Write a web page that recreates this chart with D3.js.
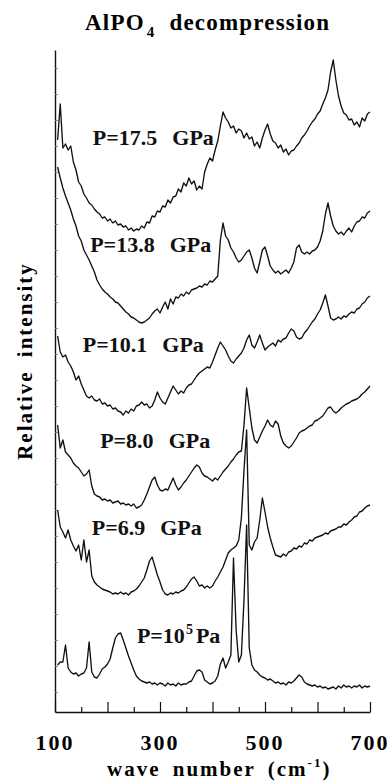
<!DOCTYPE html>
<html>
<head>
<meta charset="utf-8">
<script src="https://cdnjs.cloudflare.com/ajax/libs/d3/7.8.5/d3.min.js"></script>
<style>
  body { margin: 0; background: #fff; }
  svg { display: block; font-family: "Liberation Serif", "Times New Roman", serif; font-weight: bold; }
</style>
</head>
<body>
<svg id="chart"></svg>
<script>
// sampled wave numbers (cm-1), shared by every spectrum
const waveNumbers = [
  105, 110, 115, 120, 125, 130, 135, 140, 145, 150,
  155, 160, 165, 170, 175, 180, 185, 190, 195, 200,
  205, 210, 215, 220, 225, 230, 235, 240, 245, 250,
  255, 260, 265, 270, 275, 280, 285, 290, 295, 300,
  305, 310, 315, 320, 325, 330, 335, 340, 345, 350,
  355, 360, 365, 370, 375, 380, 385, 390, 395, 400,
  405, 410, 415, 420, 425, 430, 435, 440, 445, 450,
  455, 460, 465, 470, 475, 480, 485, 490, 495, 500,
  505, 510, 515, 520, 525, 530, 535, 540, 545, 550,
  555, 560, 565, 570, 575, 580, 585, 590, 595, 600,
  605, 610, 615, 620, 625, 630, 635, 640, 645, 650,
  655, 660, 665, 670, 675, 680, 685, 690, 695, 700
];

// relative intensity (stacked, arbitrary units)
const p175 = [
  572, 608, 564, 568, 562, 566, 550, 542, 530, 526,
  518, 514, 509, 507, 503, 500, 498, 494, 495, 491,
  493, 489, 491, 487, 488, 485, 486, 482, 484, 481,
  483, 482, 486, 484, 490, 489, 496, 495, 501, 500,
  506, 505, 512, 509, 515, 516, 523, 520, 529, 526,
  534, 528, 531, 522, 526, 523, 540, 548, 554, 551,
  562, 571, 586, 600, 594, 590, 584, 586, 579, 583,
  581, 574, 579, 573, 575, 566, 570, 564, 574, 582,
  588, 578, 571, 569, 564, 567, 560, 563, 557, 561,
  562, 566, 569, 574, 577, 581, 586, 590, 593, 598,
  601, 608, 614, 622, 640, 652, 632, 616, 606, 599,
  597, 592, 593, 587, 590, 585, 594, 591, 598, 600
];
const p138 = [
  545, 534, 524, 516, 509, 502, 493, 486, 476, 471,
  462, 457, 452, 446, 440, 432, 427, 423, 420, 418,
  415, 413, 410, 409, 406, 403, 400, 398, 395, 394,
  392, 390, 389, 390, 392, 394, 398, 401, 403, 399,
  405, 410, 403, 413, 408, 415, 414, 418, 416, 420,
  418, 422, 423, 424, 426, 425, 428, 427, 431, 430,
  433, 436, 472, 489, 476, 472, 464, 460, 454, 450,
  452, 456, 460, 462, 454, 444, 439, 450, 462, 465,
  456, 446, 442, 439, 441, 438, 440, 442, 439, 444,
  450, 464, 467, 460, 458, 460, 458, 461, 462, 465,
  471, 481, 498, 509, 496, 486, 481, 478, 480, 477,
  481, 484, 480, 486, 490, 491, 495, 494, 499, 501
];
const p101 = [
  376, 360, 355, 357, 350, 346, 340, 332, 336, 328,
  322, 316, 314, 316, 312, 311, 313, 308, 309, 306,
  307, 303, 304, 301, 300, 297, 301, 299, 303, 301,
  306, 307, 310, 307, 308, 304, 306, 312, 320, 314,
  310, 308, 314, 320, 326, 322, 318, 321, 319, 324,
  327, 328, 332, 336, 339, 341, 343, 345, 344, 350,
  357, 364, 370, 366, 362, 356, 351, 349, 353, 356,
  359, 364, 372, 377, 367, 364, 370, 377, 369, 362,
  365, 367, 369, 366, 372, 370, 373, 374, 379, 383,
  381, 375, 373, 374, 379, 382, 386, 390, 393, 398,
  402, 409, 417, 406, 394, 392, 393, 395, 393, 396,
  395, 398, 400, 399, 403, 404, 408, 410, 414, 416
];
const p80 = [
  287, 264, 272, 260, 257, 254, 249, 246, 244, 240,
  236, 238, 242, 226, 218, 216, 215, 212, 213, 211,
  212, 209, 210, 211, 208, 209, 207, 208, 206, 208,
  204, 205, 207, 212, 218, 225, 232, 235, 227, 222,
  221, 223, 222, 228, 234, 227, 222, 225, 229, 232,
  236, 240, 244, 247, 245, 239, 236, 235, 233, 231,
  234, 232, 236, 240, 243, 246, 250, 253, 257, 260,
  261, 287, 324, 304, 284, 272, 269, 275, 281, 286,
  292, 287, 285, 291, 288, 276, 269, 266, 264, 266,
  270, 274, 279, 281, 282, 284, 286, 287, 291, 292,
  294, 296, 300, 304, 305, 301, 299, 301, 304, 306,
  308, 309, 311, 312, 313, 315, 318, 320, 323, 326
];
const p69 = [
  202, 185, 180, 174, 182, 172, 166, 161, 167, 152,
  172, 150, 162, 136, 130, 127, 125, 123, 122, 121,
  120, 118, 119, 118, 120, 118, 119, 117, 120, 121,
  123, 126, 130, 134, 142, 151, 155, 146, 137, 130,
  122, 118, 117, 119, 118, 120, 119, 121, 122, 125,
  129, 133, 135, 131, 126, 127, 124, 126, 124, 126,
  131, 135, 140, 145, 152, 159, 162, 164, 166, 172,
  194, 242, 282, 167, 162, 170, 174, 192, 214, 200,
  185, 174, 165, 157, 156, 155, 158, 156, 160, 161,
  164, 163, 166, 165, 169, 168, 172, 171, 174, 175,
  176, 177, 179, 178, 181, 182, 183, 185, 185, 188,
  187, 190, 192, 195, 196, 200, 201, 204, 206, 207
];
const p0 = [
  47, 50, 50, 67, 44, 40, 38, 39, 36, 38,
  39, 44, 70, 40, 35, 34, 38, 43, 45, 48,
  53, 64, 74, 78, 79, 72, 64, 56, 49, 42,
  36, 33, 31, 30, 29, 30, 28, 29, 27, 29,
  28, 26, 29, 27, 28, 26, 29, 27, 28, 28,
  30, 31, 36, 41, 42, 40, 32, 30, 28, 29,
  31, 36, 48, 54, 44, 50, 57, 154, 82, 50,
  57, 112, 187, 64, 47, 42, 40, 37, 35, 34,
  32, 33, 31, 29, 30, 28, 29, 27, 30, 29,
  31, 34, 37, 35, 30, 28, 27, 26, 27, 25,
  26, 24, 25, 23, 24, 25, 23, 26, 24, 27,
  25, 26, 24, 26, 25, 27, 24, 26, 25, 26
];

const pressures = ['17.5', '13.8', '10.1', '8.0', '6.9', 'ambient'];
const xTicks = [100, 150, 200, 250, 300, 350, 400, 450, 500, 550, 600, 650, 700];
const xTickLabels = [100, 300, 500, 700];

const spectra = [p175, p138, p101, p80, p69, p0];
// where each pressure label sits, in (wave number, intensity)
const labelAt = [[172, 567], [167, 460], [153, 360], [186, 264], [170, 177], [256, 69]];

const width = 391, height = 783;
const svg = d3.select('#chart').attr('width', width).attr('height', height);

const x = d3.scaleLinear().domain([100, 700]).range([55, 370]);
const y = d3.scaleLinear().domain([0, 662]).range([712, 50]);

// left axis with the faint inner ticks
svg.append('g')
  .attr('transform', `translate(${x(100)},0)`)
  .call(d3.axisLeft(y).tickValues(d3.range(20, 662, 26)).tickSizeInner(-3).tickSizeOuter(0).tickFormat(''))
  .call(g => g.select('.domain').attr('stroke', '#111').attr('stroke-width', 1.4))
  .call(g => g.selectAll('.tick line').attr('stroke', '#777').attr('stroke-width', 0.8));

// bottom axis, ticks pointing up
const xAxis = svg.append('g')
  .attr('transform', `translate(0,${y(0)})`)
  .call(d3.axisBottom(x).tickValues(xTicks).tickSizeOuter(0).tickFormat(''));
xAxis.select('.domain').attr('stroke', '#111').attr('stroke-width', 1.4);
xAxis.selectAll('.tick line')
  .attr('stroke', '#111').attr('stroke-width', 1.2)
  .attr('y2', d => d % 100 === 0 ? -10 : -5);

svg.append('g')
  .selectAll('text')
  .data(xTickLabels)
  .join('text')
  .attr('x', d => x(d))
  .attr('y', 750)
  .attr('text-anchor', 'middle')
  .attr('font-size', 22)
  .attr('letter-spacing', 2)
  .text(d => d);

// spectra
const line = d3.line()
  .x((d, i) => x(waveNumbers[i]))
  .y(d => y(d));

svg.append('g')
  .attr('fill', 'none')
  .attr('stroke', '#111')
  .attr('stroke-width', 1.35)
  .attr('stroke-linejoin', 'round')
  .selectAll('path')
  .data(spectra)
  .join('path')
  .attr('d', line);

// pressure labels
const labels = svg.append('g').attr('font-size', 22).attr('fill', '#111');
pressures.forEach((p, i) => {
  const t = labels.append('text')
    .attr('x', x(labelAt[i][0]))
    .attr('y', y(labelAt[i][1]));
  if (p === 'ambient') {
    t.append('tspan').text('P=10');
    t.append('tspan').attr('font-size', 14).attr('dy', -9).attr('dx', 1).text('5');
    t.append('tspan').attr('dy', 9).attr('dx', 3).text('Pa');
  } else {
    t.append('tspan').text('P=' + p);
    t.append('tspan').attr('dx', 15).text('GPa');
  }
});

// title
const title = svg.append('text')
  .attr('x', 85).attr('y', 30)
  .attr('font-size', 23)
  .attr('letter-spacing', 1.2);
title.append('tspan').text('AlPO');
title.append('tspan').attr('font-size', 15).attr('dy', 7).attr('dx', 2).text('4');
title.append('tspan').attr('dy', -7).attr('dx', 14).text('decompression');

// axis titles
svg.append('text')
  .attr('transform', 'translate(32,361) rotate(-90)')
  .attr('text-anchor', 'middle')
  .attr('font-size', 21)
  .attr('letter-spacing', 2)
  .attr('word-spacing', 6)
  .text('Relative intensity');

const xt = svg.append('text')
  .attr('x', 107).attr('y', 776)
  .attr('font-size', 21)
  .attr('letter-spacing', 2)
  .attr('word-spacing', 5);
xt.append('tspan').text('wave number (cm');
xt.append('tspan').attr('font-size', 13).attr('dy', -9).text('-1');
xt.append('tspan').attr('dy', 9).text(')');
</script>
</body>
</html>
